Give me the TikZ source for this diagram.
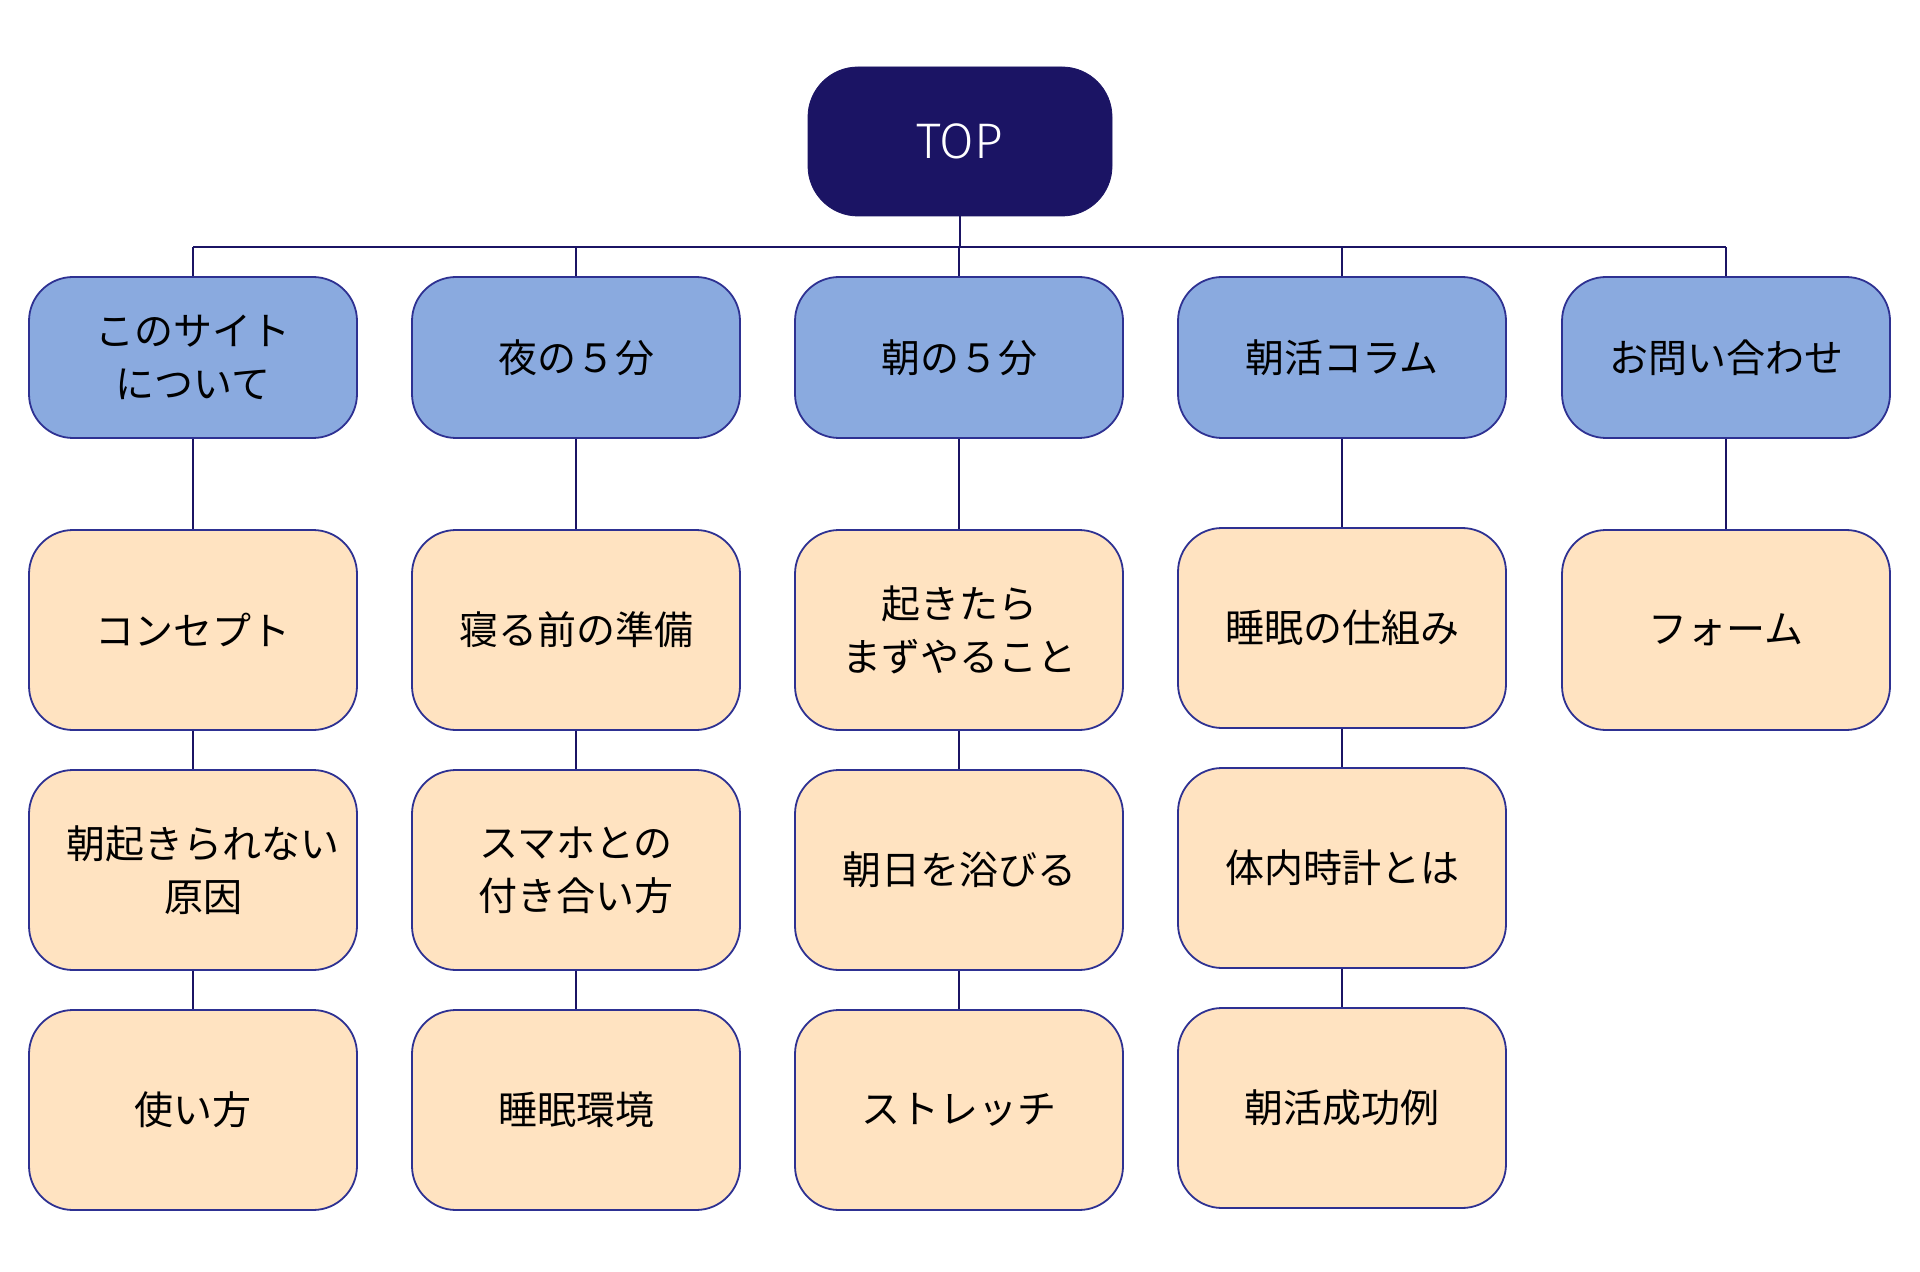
\documentclass[tikz,border=0pt]{standalone}
\usepackage{fontspec}
\setmainfont{Noto Sans CJK JP}
\newfontfamily\topfont[UprightFont=* Light]{Fira Sans}
\definecolor{navy}{HTML}{1B1464}
\definecolor{bord}{HTML}{2E3192}
\definecolor{lvlone}{HTML}{8AAADF}
\definecolor{lvltwo}{HTML}{FFE3C1}
\tikzset{
  px/.style={x=0.5pt,y=-0.5pt},
  topbox/.style={draw=navy,fill=navy,rounded corners=25pt,minimum width=152pt,minimum height=74.5pt,inner sep=0pt,text=white,font=\topfont\fontsize{25}{30}\selectfont},
  catbox/.style={draw=bord,line width=0.9pt,fill=lvlone,rounded corners=22pt,minimum width=164pt,minimum height=80.5pt,inner sep=0pt,align=center,font=\fontsize{19.5}{26.5}\selectfont},
  pagebox/.style={draw=bord,line width=0.9pt,fill=lvltwo,rounded corners=22pt,minimum width=164pt,minimum height=100pt,inner sep=0pt,align=center,font=\fontsize{19.5}{26.5}\selectfont},
  link/.style={draw=navy,line width=1pt}
}
\begin{document}
\begin{tikzpicture}[px]
\useasboundingbox (0,0) rectangle (1920,1272);
\fill[white] (0,0) rectangle (1920,1272);
% top
\node[topbox] (top) at (960,141.5) {TOP};
% level 1
\node[catbox] (c1) at (193,357.5) {このサイト\\について};
\node[catbox] (c2) at (576,357.5) {夜の５分};
\node[catbox] (c3) at (959,357.5) {朝の５分};
\node[catbox] (c4) at (1342,357.5) {朝活コラム};
\node[catbox] (c5) at (1726,357.5) {お問い合わせ};
% level 2
\node[pagebox] (a1) at (193,630) {コンセプト};
\node[pagebox] (a2) at (193,870) {\hspace*{10pt}朝起きられない\\\hspace*{10pt}原因};
\node[pagebox] (a3) at (193,1110) {使い方};
\node[pagebox] (b1) at (576,630) {寝る前の準備};
\node[pagebox] (b2) at (576,870) {スマホとの\\付き合い方};
\node[pagebox] (b3) at (576,1110) {睡眠環境};
\node[pagebox] (d1) at (959,630) {起きたら\\まずやること};
\node[pagebox] (d2) at (959,870) {朝日を浴びる};
\node[pagebox] (d3) at (959,1110) {ストレッチ};
\node[pagebox] (e1) at (1342,628) {睡眠の仕組み};
\node[pagebox] (e2) at (1342,868) {体内時計とは};
\node[pagebox] (e3) at (1342,1108) {朝活成功例};
\node[pagebox] (f1) at (1726,630) {フォーム};
% bus
\coordinate (busL) at (193,247);
\coordinate (busR) at (1726,247);
\draw[link] (busL) -- (busR);
\draw[link] (top.south) -- (top.south |- busL);
\foreach \n in {c1,c2,c3,c4,c5} {\draw[link] (\n.north) -- (\n.north |- busL);}
% columns
\draw[link] (c1.south) -- (a1.north);
\draw[link] (a1.south) -- (a2.north);
\draw[link] (a2.south) -- (a3.north);
\draw[link] (c2.south) -- (b1.north);
\draw[link] (b1.south) -- (b2.north);
\draw[link] (b2.south) -- (b3.north);
\draw[link] (c3.south) -- (d1.north);
\draw[link] (d1.south) -- (d2.north);
\draw[link] (d2.south) -- (d3.north);
\draw[link] (c4.south) -- (e1.north);
\draw[link] (e1.south) -- (e2.north);
\draw[link] (e2.south) -- (e3.north);
\draw[link] (c5.south) -- (f1.north);
\end{tikzpicture}
\end{document}
